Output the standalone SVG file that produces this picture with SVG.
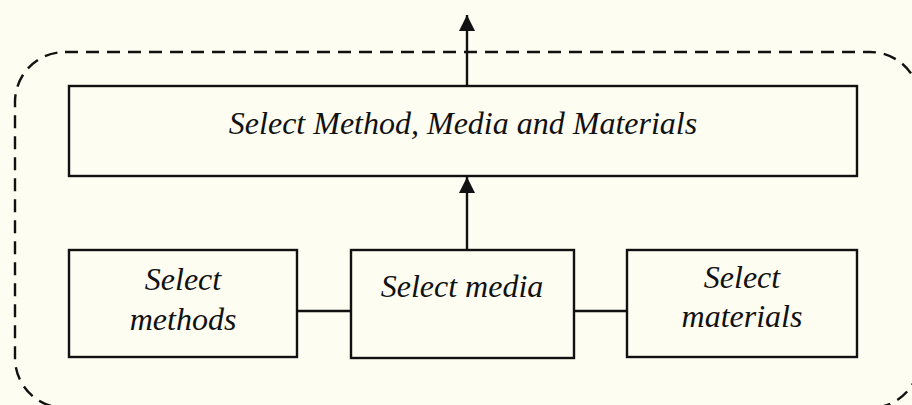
<svg xmlns="http://www.w3.org/2000/svg" width="912" height="405" viewBox="0 0 912 405">
<defs>
<style>
.box{fill:none;stroke:#111;stroke-width:2.4}
.lbl{font-family:"Liberation Serif","Times New Roman",serif;font-style:italic;font-size:32px;fill:#111;text-anchor:middle}
.con{stroke:#111;stroke-width:2.4;fill:none}
.frame{fill:none;stroke:#111;stroke-width:2.4;stroke-dasharray:13 8}
</style>
<marker id="arr" viewBox="0 0 16 16" refX="16" refY="8" markerWidth="16" markerHeight="16" markerUnits="userSpaceOnUse" orient="auto">
<path d="M0,0 L16,8 L0,16 Z" fill="#111"/>
</marker>
</defs>
<rect x="0" y="0" width="912" height="405" fill="#fdfdf1"/>
<rect class="frame" x="15" y="52" width="905" height="356" rx="50" ry="50"/>
<g id="connectors">
<line class="con" x1="467" y1="86" x2="467" y2="15" marker-end="url(#arr)"/>
<line class="con" x1="467" y1="250" x2="467" y2="177" marker-end="url(#arr)"/>
<line class="con" x1="297" y1="311" x2="351" y2="311"/>
<line class="con" x1="574" y1="311" x2="627" y2="311"/>
</g>
<g id="node-main">
<rect class="box" x="69" y="86" width="788" height="90"/>
<text class="lbl" x="463" y="134">Select Method, Media and Materials</text>
</g>
<g id="node-methods">
<rect class="box" x="69" y="250" width="228" height="107"/>
<text class="lbl" x="183" y="290">Select</text>
<text class="lbl" x="183" y="330">methods</text>
</g>
<g id="node-media">
<rect class="box" x="351" y="250" width="223" height="108"/>
<text class="lbl" x="462" y="297">Select media</text>
</g>
<g id="node-materials">
<rect class="box" x="627" y="250" width="230" height="107"/>
<text class="lbl" x="742" y="288">Select</text>
<text class="lbl" x="742" y="327">materials</text>
</g>
</svg>
